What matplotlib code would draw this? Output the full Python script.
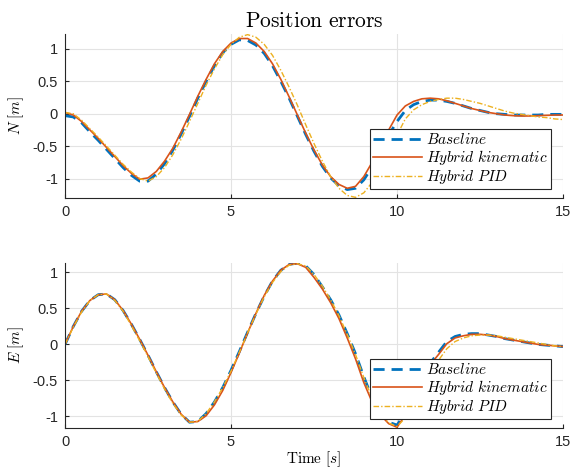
import numpy as np
import matplotlib
matplotlib.use("Agg")
import matplotlib.pyplot as plt

plt.rcParams['mathtext.fontset'] = 'cm'
plt.rcParams['font.family'] = ['Liberation Sans', 'DejaVu Sans']
plt.rcParams['axes.unicode_minus'] = False

# time samples [s]
t = np.arange(0, 15.01, 0.25)

# North position error [m]
n_baseline = [-0.03, -0.05, -0.14, -0.28, -0.41, -0.55, -0.69, -0.83, -0.95, -1.04,
              -1.04, -0.93, -0.77, -0.56, -0.31, -0.04, 0.24, 0.50, 0.74, 0.94,
              1.07, 1.14, 1.13, 1.06, 0.93, 0.74, 0.50, 0.24, -0.04, -0.32,
              -0.58, -0.81, -0.99, -1.11, -1.17, -1.15, -1.02, -0.82, -0.58, -0.33,
              -0.12, 0.05, 0.14, 0.19, 0.21, 0.21, 0.19, 0.16, 0.12, 0.08,
              0.05, 0.02, 0.00, -0.01, -0.02, -0.02, -0.02, -0.02, -0.01, -0.01,
              -0.01]
n_kinematic = [0.02, -0.02, -0.12, -0.25, -0.38, -0.52, -0.66, -0.80, -0.92, -1.01,
               -0.99, -0.89, -0.73, -0.53, -0.28, -0.01, 0.27, 0.53, 0.77, 0.96,
               1.09, 1.16, 1.16, 1.09, 0.96, 0.77, 0.53, 0.26, -0.02, -0.30,
               -0.56, -0.79, -0.97, -1.09, -1.15, -1.12, -0.97, -0.75, -0.50, -0.25,
               -0.02, 0.12, 0.19, 0.23, 0.24, 0.23, 0.20, 0.16, 0.12, 0.08,
               0.05, 0.02, 0.00, -0.02, -0.03, -0.035, -0.035, -0.03, -0.025, -0.02,
               -0.02]
n_pid = [0.02, 0.00, -0.10, -0.23, -0.36, -0.50, -0.64, -0.78, -0.90, -1.00,
         -1.04, -0.97, -0.83, -0.63, -0.39, -0.12, 0.16, 0.44, 0.69, 0.91,
         1.07, 1.18, 1.22, 1.18, 1.07, 0.90, 0.67, 0.41, 0.13, -0.17,
         -0.46, -0.73, -0.97, -1.15, -1.26, -1.29, -1.22, -1.06, -0.83, -0.58,
         -0.33, -0.08, 0.06, 0.14, 0.19, 0.22, 0.24, 0.24, 0.22, 0.19,
         0.16, 0.12, 0.08, 0.04, 0.01, -0.01, -0.03, -0.05, -0.06, -0.08,
         -0.09]

# East position error [m]
e_baseline = [0.00, 0.25, 0.46, 0.61, 0.69, 0.70, 0.62, 0.47, 0.28, 0.07,
              -0.15, -0.38, -0.60, -0.80, -0.97, -1.08, -1.07, -0.96, -0.80, -0.60,
              -0.36, -0.10, 0.17, 0.43, 0.67, 0.88, 1.03, 1.11, 1.13, 1.09,
              0.97, 0.80, 0.62, 0.41, 0.15, -0.13, -0.45, -0.74, -0.95, -1.08,
              -1.12, -0.95, -0.70, -0.45, -0.26, -0.11, 0.04, 0.11, 0.14, 0.15,
              0.15, 0.13, 0.11, 0.08, 0.06, 0.04, 0.02, 0.00, -0.01, -0.02,
              -0.03]
e_kinematic = [0.00, 0.25, 0.46, 0.61, 0.69, 0.70, 0.62, 0.47, 0.28, 0.07,
               -0.15, -0.38, -0.60, -0.80, -0.97, -1.08, -1.07, -0.99, -0.84, -0.64,
               -0.39, -0.12, 0.16, 0.43, 0.68, 0.88, 1.03, 1.11, 1.12, 1.07,
               0.93, 0.77, 0.58, 0.36, 0.09, -0.20, -0.53, -0.80, -0.98, -1.10,
               -1.15, -0.98, -0.72, -0.47, -0.28, -0.14, 0.01, 0.09, 0.12, 0.14,
               0.14, 0.13, 0.11, 0.08, 0.06, 0.04, 0.02, 0.00, -0.01, -0.02,
               -0.03]
e_pid = [0.00, 0.24, 0.45, 0.61, 0.69, 0.70, 0.61, 0.46, 0.26, 0.05,
         -0.17, -0.40, -0.62, -0.82, -0.98, -1.08, -1.07, -0.96, -0.80, -0.60,
         -0.37, -0.11, 0.16, 0.42, 0.66, 0.86, 1.01, 1.10, 1.12, 1.09,
         0.97, 0.81, 0.62, 0.40, 0.14, -0.14, -0.46, -0.75, -0.96, -1.09,
         -1.14, -1.02, -0.78, -0.55, -0.37, -0.22, -0.06, 0.04, 0.09, 0.12,
         0.13, 0.13, 0.12, 0.10, 0.08, 0.06, 0.04, 0.02, 0.00, -0.02,
         -0.03]

labels = [r'$Baseline$', r'$Hybrid\ kinematic$', r'$Hybrid\ PID$']
yticks = [-1, -0.5, 0, 0.5, 1]
ytick_labels = ['-1', '-0.5', '0', '0.5', '1']
xticks = [0, 5, 10, 15]

blue = '#0072BD'
orange = '#D95319'
yellow = '#EDB120'

fig = plt.figure(figsize=(5.82, 4.70), dpi=100)
ax1 = fig.add_axes([0.1117, 0.5787, 0.8557, 0.349])
ax2 = fig.add_axes([0.1117, 0.0894, 0.8557, 0.351])


def style(ax, ylim):
    ax.set_xlim(0, 15)
    ax.set_ylim(*ylim)
    ax.set_xticks(xticks)
    ax.set_xticklabels([str(v) for v in xticks])
    ax.set_yticks(yticks)
    ax.set_yticklabels(ytick_labels)
    ax.grid(True, color='#e3e3e3', linewidth=0.8)
    ax.set_axisbelow(True)
    for s in ['top', 'right']:
        ax.spines[s].set_visible(False)
    for s in ['left', 'bottom']:
        ax.spines[s].set_color('#262626')
        ax.spines[s].set_linewidth(0.8)
    ax.tick_params(direction='in', length=3, width=0.8, colors='#262626',
                   labelsize=10.5, pad=5)


def draw(ax, base, kin, pid):
    ax.plot(t, base, color=blue, linestyle=(0, (4, 2.5)), linewidth=2, label=labels[0])
    ax.plot(t, kin, color=orange, linewidth=1.2, label=labels[1])
    ax.plot(t, pid, color=yellow, linestyle=(0, (4, 1.5, 1, 1.5)), linewidth=1, label=labels[2])
    leg = ax.legend(loc='lower right', bbox_to_anchor=(0.976, 0.055), fontsize=11,
                    fancybox=False, framealpha=1, edgecolor='#262626',
                    handlelength=3.2, borderpad=0.2, labelspacing=0.05,
                    handletextpad=0.3, borderaxespad=0)
    leg.get_frame().set_linewidth(0.8)


draw(ax1, n_baseline, n_kinematic, n_pid)
style(ax1, (-1.3, 1.23))
ax1.set_ylabel(r'$N\ [m]$', fontsize=11, labelpad=5)
ax1.set_title(r'$\mathrm{Position\ errors}$', fontsize=15.5, pad=5)

draw(ax2, e_baseline, e_kinematic, e_pid)
style(ax2, (-1.16, 1.13))
ax2.set_ylabel(r'$E\ [m]$', fontsize=11, labelpad=5)
ax2.set_xlabel(r'$\mathrm{Time}\ [s]$', fontsize=11, labelpad=0)

fig.savefig('out.png', dpi=100)
